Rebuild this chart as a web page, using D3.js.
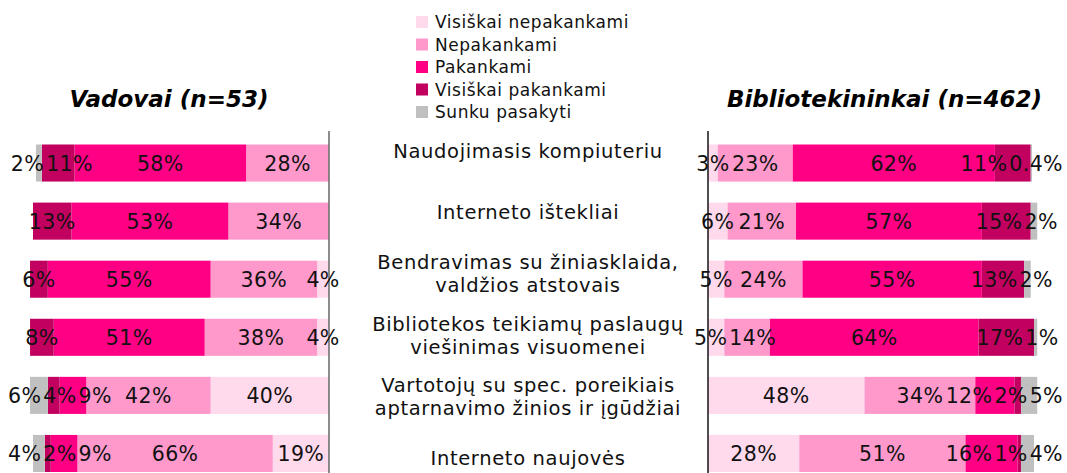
<!DOCTYPE html>
<html>
<head>
<meta charset="utf-8">
<script src="https://cdn.jsdelivr.net/npm/d3@7/dist/d3.min.js"></script>
<style>
  html, body { margin: 0; padding: 0; background: #fff; }
  svg { display: block; font-family: "DejaVu Sans", Verdana, sans-serif; }
</style>
</head>
<body>
<svg id="chart" width="1067" height="473"></svg>
<script>
// Skill-adequacy survey: two groups, six skill areas, five answer options
const categories = [
  "Naudojimasis kompiuteriu",
  "Interneto ištekliai",
  "Bendravimas su žiniasklaida,\nvaldžios atstovais",
  "Bibliotekos teikiamų paslaugų\nviešinimas visuomenei",
  "Vartotojų su spec. poreikiais\naptarnavimo žinios ir įgūdžiai",
  "Interneto naujovės"
];

const seriesNames = [
  "Visiškai nepakankami",
  "Nepakankami",
  "Pakankami",
  "Visiškai pakankami",
  "Sunku pasakyti"
];

const seriesColors = ["#FFD9EC", "#FF99CC", "#FF0084", "#C2005F", "#C0C0C0"];

const groupTitles = ["Vadovai (n=53)", "Bibliotekininkai (n=462)"];

// Percentages per category, in series order
const vadovai = [
  [0, 28, 58, 11, 2],
  [0, 34, 53, 13, 0],
  [4, 36, 55, 6, 0],
  [4, 38, 51, 8, 0],
  [40, 42, 9, 4, 6],
  [19, 66, 9, 2, 4]
];

const bibliotekininkai = [
  [3, 23, 62, 11, 0.4],
  [6, 21, 57, 15, 2],
  [5, 24, 55, 13, 2],
  [5, 14, 64, 17, 1],
  [48, 34, 12, 2, 5],
  [28, 51, 16, 1, 4]
];

const svg = d3.select("#chart");

// Shared vertical band scale for the bars
const y = d3.scaleBand()
  .domain(categories)
  .range([144.5, 472])
  .paddingInner(0.362)
  .paddingOuter(0);

// Category names sit on their own evenly spaced middle axis
const yLabel = d3.scalePoint()
  .domain(categories)
  .range([151, 458]);

// Left panel grows leftwards from its axis, right panel rightwards
const panels = [
  { data: vadovai, x: d3.scaleLinear().domain([0, 100]).range([329, 33]),
    title: groupTitles[0], titleX: 169, lo: 8, hi: Infinity,
    axisColor: "#707070" },
  { data: bibliotekininkai, x: d3.scaleLinear().domain([0, 100]).range([708, 1034]),
    title: groupTitles[1], titleX: 884.5, lo: -Infinity, hi: 1063,
    axisColor: "#222" }
];

// Push overlapping labels apart along a row, keeping them inside [lo, hi]
function spread(items, lo, hi, gap) {
  items.sort((a, b) => a.x - b.x);
  for (let it = 0; it < 400; it++) {
    let moved = false;
    for (let i = 0; i < items.length - 1; i++) {
      const a = items[i], b = items[i + 1];
      const ov = (a.x + a.w / 2 + gap) - (b.x - b.w / 2);
      if (ov > 0.05) { a.x -= ov / 2; b.x += ov / 2; moved = true; }
    }
    items.forEach(d => { d.x = Math.max(lo + d.w / 2, Math.min(hi - d.w / 2, d.x)); });
    if (!moved) break;
  }
}

panels.forEach(p => {
  const g = svg.append("g");

  // stacked segments for each category
  const rows = p.data.map((vals, ri) => {
    let acc = 0;
    return vals.map((v, si) => {
      const seg = { cat: categories[ri], s: si, v, x0: acc, x1: acc + v };
      acc += v;
      return seg;
    });
  });

  rows.forEach(segs => {
    g.selectAll(null)
      .data(segs.filter(d => d.v > 0))
      .join("rect")
      .attr("x", d => Math.min(p.x(d.x0), p.x(d.x1)))
      .attr("width", d => Math.abs(p.x(d.x1) - p.x(d.x0)))
      .attr("y", d => y(d.cat))
      .attr("height", y.bandwidth())
      .attr("fill", d => seriesColors[d.s]);
  });

  // axis line
  g.append("line")
    .attr("x1", p.x(0)).attr("x2", p.x(0))
    .attr("y1", 131).attr("y2", 473)
    .attr("stroke", p.axisColor)
    .attr("stroke-width", 1.6);

  // value labels
  rows.forEach(segs => {
    const labels = g.selectAll(null)
      .data(segs.filter(d => d.v > 0))
      .join("text")
      .attr("text-anchor", "middle")
      .attr("y", d => y(d.cat) + y.bandwidth() / 2 + 7.5)
      .attr("font-size", 20.5)
      .attr("letter-spacing", 0.4)
      .attr("fill", "#111")
      .text(d => d.v + "%");
    const items = [];
    labels.each(function (d) {
      items.push({ node: this, x: p.x((d.x0 + d.x1) / 2), w: this.getComputedTextLength() });
    });
    spread(items, p.lo, p.hi, 2);
    items.forEach(it => d3.select(it.node).attr("x", it.x));
  });

  // panel title
  svg.append("text")
    .attr("x", p.titleX)
    .attr("y", 107)
    .attr("text-anchor", "middle")
    .attr("font-size", 23)
    .attr("font-weight", "bold")
    .attr("font-style", "italic")
    .attr("fill", "#000")
    .text(p.title);
});

// category names in the middle column
const cat = svg.append("g")
  .selectAll("text")
  .data(categories)
  .join("text")
  .attr("text-anchor", "middle")
  .attr("font-size", 19.5)
  .attr("letter-spacing", 0.65)
  .attr("fill", "#111");

cat.each(function (c) {
  const lines = c.split("\n");
  const lh = 23;
  const top = yLabel(c) - (lines.length - 1) * lh / 2 + 7;
  d3.select(this).selectAll("tspan")
    .data(lines)
    .join("tspan")
    .attr("x", 528)
    .attr("y", (d, i) => top + i * lh)
    .text(d => d);
});

// legend
const legend = svg.append("g")
  .selectAll("g")
  .data(seriesNames)
  .join("g")
  .attr("transform", (d, i) => `translate(416, ${16 + i * 22.5})`);

legend.append("rect")
  .attr("width", 12)
  .attr("height", 12)
  .attr("fill", (d, i) => seriesColors[i]);

legend.append("text")
  .attr("x", 19)
  .attr("y", 12)
  .attr("font-size", 17)
  .attr("letter-spacing", 0.55)
  .attr("fill", "#111")
  .text(d => d);
</script>
</body>
</html>
